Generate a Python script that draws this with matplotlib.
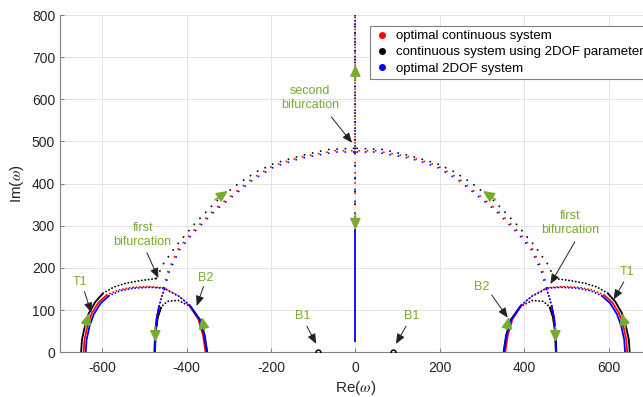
import numpy as np
import matplotlib
matplotlib.use("Agg")
import matplotlib.pyplot as plt
from matplotlib.lines import Line2D

plt.rcParams['font.family'] = ['Liberation Sans', 'DejaVu Sans']
plt.rcParams['mathtext.fontset'] = 'stix'
plt.rcParams['axes.unicode_minus'] = False

# =========================
# DATA (right half, Re >= 0; left half is the mirror image)
# =========================
# T1 branch: from the real axis up to the first bifurcation
t1_black_x = [650, 648, 641, 632, 616, 598, 572, 543, 510, 472]
t1_black_y = [0, 30, 62, 92, 120, 140, 155, 164, 170, 175]
t1_red_x = [644, 642, 635, 625, 609, 589, 561, 530, 490, 455]
t1_red_y = [0, 30, 62, 92, 118, 136, 148, 154, 156, 153]
t1_blue_x = [639, 637, 630, 620, 604, 584, 557, 526, 488, 452]
t1_blue_y = [0, 30, 62, 90, 116, 134, 146, 152, 154, 152]

# B2 branch
b2_black_x = [351, 357, 368, 390, 420, 445, 460, 468, 473, 475]
b2_black_y = [0, 40, 77, 108, 123, 121, 108, 84, 50, 0]
b2_red_x = [355, 361, 372, 395, 419, 441, 455]
b2_red_y = [0, 40, 78, 113, 134, 146, 153]
b2_blue_x = [352, 358, 369, 393, 417, 440, 452]
b2_blue_y = [0, 40, 77, 112, 132, 144, 152]

# branch going down from the first bifurcation
down_x = [452, 458, 465, 471, 475, 476]
down_y = [152, 135, 110, 80, 40, 0]

# large arc from the first to the second bifurcation
arc_black_x = [472, 455, 425, 385, 330, 280, 235, 192, 130, 66, 0]
arc_black_y = [175, 210, 252, 300, 358, 398, 428, 448, 466, 481, 484]
arc_red_x = [455, 444, 420, 388, 333, 245, 194, 131, 49, 0]
arc_red_y = [153, 193, 245, 284, 340, 412, 443, 463, 478, 478]
arc_blue_x = [452, 441, 417, 385, 330, 243, 192, 130, 48, 0]
arc_blue_y = [152, 191, 243, 282, 338, 409, 440, 460, 475, 475]

# imaginary axis
vert_top = [475, 800]
vert_mid = [290, 475]
vert_low = [25, 290]

b1_x = [88]
b1_y = [0]

GREEN = '#77AC30'
colors = {'black': 'k', 'red': '#ff0000', 'blue': '#0000ff'}

# green direction arrows: (tail, tip) for right half, mirrored to the left
dir_arrows_right = [((358, 52), (364, 84)),
                    ((474, 60), (474, 24)),
                    ((640, 60), (631, 93)),
                    ((332, 362), (302, 383))]
dir_arrows_axis = [((0, 645), (0, 682)), ((0, 328), (0, 290))]

# =========================
# FIGURE
# =========================
fig = plt.figure(figsize=(6.43, 3.97), dpi=100)
ax = fig.add_axes([60 / 643, 1 - 352.3 / 397, 590.8 / 643, 337.3 / 397])

solid = dict(lw=1.3, solid_capstyle='butt')
fine = dict(lw=1.3, ls=(0, (0.1, 1.8)), dash_capstyle='round')
sparse = dict(lw=1.3, ls=(0, (0.1, 4.5)), dash_capstyle='round')


def branch(x, y, c, k, z):
    # solid for the first k segments, dotted afterwards
    for s in (1, -1):
        xs = s * np.array(x, dtype=float)
        ax.plot(xs[:k + 1], y[:k + 1], color=c, zorder=z, **solid)
        ax.plot(xs[k:], y[k:], color=c, zorder=z, **fine)


def arc(x, y, c, z):
    for s in (1, -1):
        ax.plot(s * np.array(x, dtype=float), y, color=c, zorder=z, **sparse)


# black
branch(t1_black_x, t1_black_y, 'k', 5, 2)
branch(b2_black_x, b2_black_y, 'k', 3, 2)
for s in (1, -1):
    ax.plot(s * np.array(b2_black_x[6:], dtype=float), b2_black_y[6:], color='k', zorder=2, **solid)
arc(arc_black_x, arc_black_y, 'k', 2)

# red
branch(t1_red_x, t1_red_y, colors['red'], 5, 3)
branch(b2_red_x, b2_red_y, colors['red'], 3, 3)
branch(down_x[::-1], down_y[::-1], colors['red'], 3, 3)
arc(arc_red_x, arc_red_y, colors['red'], 3)

# blue
branch(t1_blue_x, t1_blue_y, colors['blue'], 5, 4)
branch(b2_blue_x, b2_blue_y, colors['blue'], 3, 4)
branch(down_x[::-1], down_y[::-1], colors['blue'], 3, 4)
arc(arc_blue_x, arc_blue_y, colors['blue'], 4)

# imaginary axis
dot = dict(lw=1.3, dash_capstyle='round')
ax.plot([0, 0], vert_top, color='k', ls=(0, (0.1, 3.2)), zorder=2, **dot)
ax.plot([0, 0], vert_top, color=colors['red'], ls=(1.5, (0.1, 3.2)), zorder=3, **dot)
ax.plot([0, 0], vert_top, color=colors['blue'], ls=(3.0, (0.1, 4.8)), zorder=4, **dot)
ax.plot([0, 0], vert_mid, color='k', ls=(0, (0.1, 7.0)), zorder=2, **dot)
ax.plot([0, 0], vert_mid, color=colors['red'], ls=(2.0, (0.1, 5.5)), zorder=3, **dot)
ax.plot([0, 0], vert_mid, color=colors['blue'], ls=(4.0, (0.1, 6.5)), zorder=4, **dot)
ax.plot([0, 0], vert_low, color=colors['blue'], zorder=4, **solid)

# B1 points
for s in (1, -1):
    ax.plot(s * np.array(b1_x), b1_y, 'o', ms=3.5, mfc='none', mec='k', mew=1.1, zorder=5)

# green direction arrows
arr = dict(arrowstyle='-|>,head_length=0.6,head_width=0.28', color=GREEN, lw=1.3,
           mutation_scale=11, shrinkA=0, shrinkB=0)
for (tx, ty), (hx, hy) in dir_arrows_right:
    for s in (1, -1):
        ax.annotate('', xy=(s * hx, hy), xytext=(s * tx, ty), arrowprops=arr, zorder=6)
for tail, tip in dir_arrows_axis:
    ax.annotate('', xy=tip, xytext=tail, arrowprops=arr, zorder=6)

# text annotations with black arrows
karr = dict(arrowstyle='-|>,head_length=0.6,head_width=0.25', color='#222222', lw=0.7,
            mutation_scale=10, shrinkA=0, shrinkB=0)
notes = [
    ('T1', (-652, 167), (-642, 144), (-626, 94)),
    ('T1', (643, 191), (636, 167), (612, 125)),
    ('first\nbifurcation', (-504, 279), (-494, 236), (-467, 176)),
    ('first\nbifurcation', (508, 306), (520, 262), (462, 162)),
    ('B2', (-354, 176), (-360, 156), (-376, 110)),
    ('B2', (299, 156), (323, 136), (361, 82)),
    ('B1', (-124, 85), (-115, 62), (-93, 20)),
    ('B1', (133, 85), (120, 62), (96, 20)),
    ('second\nbifurcation', (-108, 603), (-57, 558), (-8, 497)),
]
for txt, (tx, ty), (ax0, ay0), (hx, hy) in notes:
    ax.text(tx, ty, txt, color=GREEN, fontsize=9, ha='center', va='center',
            linespacing=1.25, zorder=7)
    ax.annotate('', xy=(hx, hy), xytext=(ax0, ay0), arrowprops=karr, zorder=7)

# axes styling
ax.set_xlim(-700, 700)
ax.set_ylim(0, 800)
ax.set_xticks(np.arange(-600, 601, 200))
ax.set_yticks(np.arange(0, 801, 100))
ax.grid(True, color='#e4e4e4', lw=0.7)
ax.set_axisbelow(True)
for sp in ('top', 'right'):
    ax.spines[sp].set_visible(False)
for sp in ('left', 'bottom'):
    ax.spines[sp].set_color('#808080')
    ax.spines[sp].set_linewidth(0.8)
ax.tick_params(direction='in', length=3, color='#808080', labelcolor='#262626', labelsize=10)
ax.tick_params(axis='x', pad=6)
ax.tick_params(axis='y', pad=3.5)
ax.set_xlabel(r'Re($\omega$)', fontsize=11, color='#262626', labelpad=3)
ax.set_ylabel(r'Im($\omega$)', fontsize=11, color='#262626', labelpad=4)

handles = [Line2D([], [], ls='none', marker='.', ms=8, color=colors['red']),
           Line2D([], [], ls='none', marker='.', ms=8, color='k'),
           Line2D([], [], ls='none', marker='.', ms=8, color=colors['blue'])]
labels = ['optimal continuous system', 'continuous system using 2DOF parameters',
          'optimal 2DOF system']
leg = ax.legend(handles, labels, loc='upper left', bbox_to_anchor=(0.5247, 0.9674),
                borderaxespad=0, fontsize=9.5, frameon=True, fancybox=False,
                framealpha=1, edgecolor='#808080', borderpad=0.3, labelspacing=0.3,
                handlelength=1.2, handletextpad=0.5)
leg.get_frame().set_linewidth(0.8)
leg.set_zorder(10)

fig.savefig('out.png', dpi=100)
